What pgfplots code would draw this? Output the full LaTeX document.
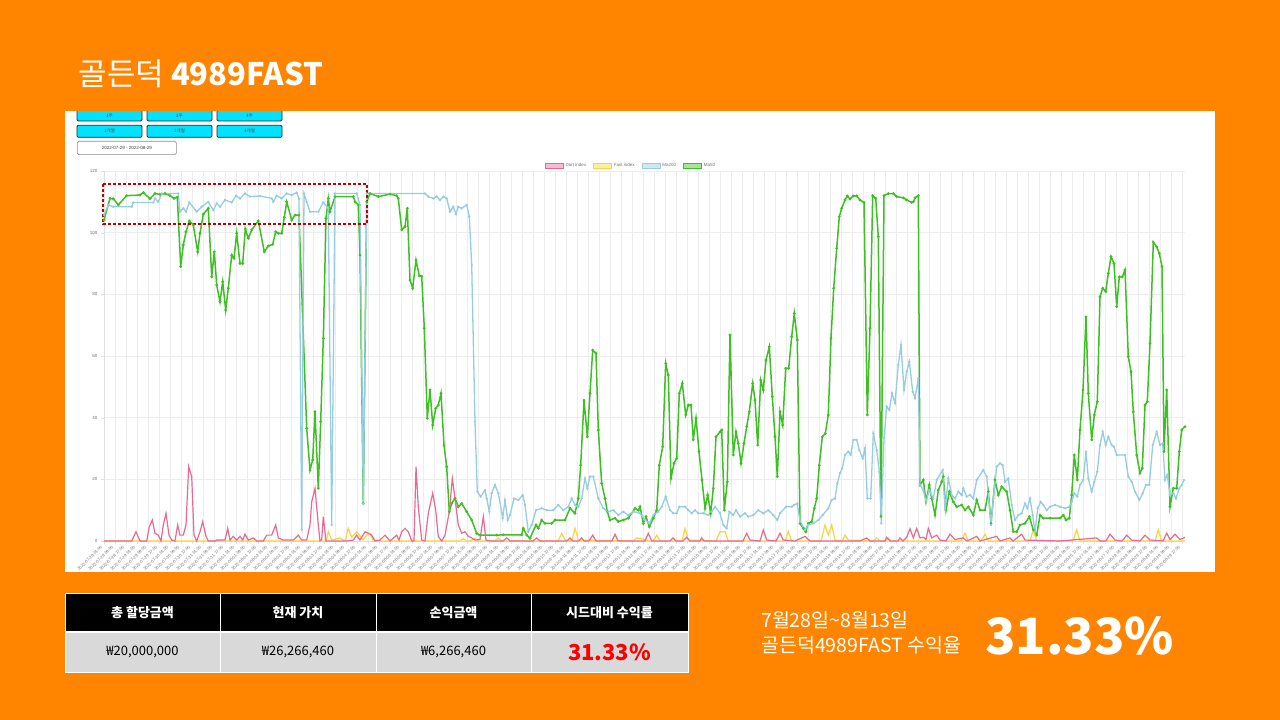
\documentclass[border=0pt]{standalone}
\usepackage{fontspec}
\setmainfont{Liberation Sans}
\newfontfamily\kr{Noto Sans CJK KR}
\usepackage{pgfplots}
\pgfplotsset{compat=1.18}

\definecolor{bg}{RGB}{255,132,0}
\definecolor{dartc}{RGB}{232,106,146}
\definecolor{fastc}{RGB}{250,212,60}
\definecolor{ma200c}{RGB}{150,205,225}
\definecolor{ma50c}{RGB}{62,192,36}
\definecolor{btn}{RGB}{0,226,255}
\definecolor{dashc}{RGB}{190,0,0}
\definecolor{cell}{RGB}{217,217,217}

% x tick labels, three per day
\def\dl#1{2022-#1 01:00,2022-#1 09:00,2022-#1 17:00}
\edef\xlabs{\dl{07-28},\dl{07-29},\dl{07-30},\dl{07-31},\dl{08-01},\dl{08-02},\dl{08-03},\dl{08-04},\dl{08-05},\dl{08-06},\dl{08-07},\dl{08-08},\dl{08-09},\dl{08-10},\dl{08-11},\dl{08-12},\dl{08-13},\dl{08-14},\dl{08-15},\dl{08-16},\dl{08-17},\dl{08-18},\dl{08-19},\dl{08-20},\dl{08-21},\dl{08-22},\dl{08-23},\dl{08-24},\dl{08-25},\dl{08-26},\dl{08-27},\dl{08-28},\dl{08-29}}

\begin{document}
\begin{tikzpicture}[x=1pt,y=1pt]
\path[use as bounding box] (0,0) rectangle (1280,720);
\fill[bg] (0,0) rectangle (1280,720);
\fill[white] (65,148) rectangle (1215,609);

% period buttons
\foreach \a/\t in {77/1주,147/2주,217/3주}{
  \draw[fill=btn,draw=black!85,line width=0.8pt,rounded corners=1.2pt] (\a,599) rectangle ++(65,14);
  \node[font=\kr\fontsize{4.5}{5}\selectfont,text=black!70] at (\a+32.5,603.8) {\t};
}
\foreach \a/\t in {77/1개월,147/2개월,217/3개월}{
  \draw[fill=btn,draw=black!85,line width=0.8pt,rounded corners=1.2pt] (\a,582.7) rectangle ++(65,12);
  \node[font=\kr\fontsize{4.5}{5}\selectfont,text=black!70] at (\a+32.5,588.7) {\t};
}
\draw[fill=white,draw=black!45,line width=0.6pt,rounded corners=1.5pt] (77.3,565.3) rectangle (176.3,578.7);
\node[font=\fontsize{4.5}{5}\selectfont,text=black!75] at (126.8,572) {2022-07-29 - 2022-08-29};
\fill[bg] (0,609) rectangle (1280,720);

\node[anchor=base west,text=white,font=\kr\fontsize{31}{31}\selectfont] at (75,634) {골든덕 \bfseries 4989FAST};

\coordinate (plotorigin) at (104,179);
\begin{axis}[
  at={(plotorigin)}, anchor=south west, scale only axis,
  width=1081pt, height=370pt,
  xmin=104, xmax=1185, ymin=0, ymax=120,
  enlargelimits=false, clip=false,
  axis lines*=left,
  xtick={104,115,...,1182},
  xticklabels/.expanded={\xlabs},
  ytick={0,20,...,120},
  grid=major,
  major grid style={black!7,line width=0.4pt},
  axis line style={black!12},
  tick style={black!12},
  major tick length=3pt, tick align=outside,
  x tick label style={rotate=45,anchor=east,font=\fontsize{4.2}{5}\selectfont,text=black!55},
  y tick label style={font=\fontsize{4.5}{5}\selectfont,text=black!55},
  /pgf/number format/assume math mode=true,
  legend style={at={(0.4875,1)},anchor=south,draw=none,fill=none,
    font=\fontsize{4.5}{5}\selectfont,text=black!55,legend columns=4,
    /tikz/every even column/.append style={column sep=5pt},inner sep=0.5pt},
  legend cell align=left,
]
\addlegendimage{legend image code/.code={\draw[draw=dartc,fill=dartc!45,line width=0.7pt] (0pt,-2.6pt) rectangle (18pt,2.6pt);}}
\addlegendentry{Dart index}
\addlegendimage{legend image code/.code={\draw[draw=fastc,fill=fastc!45,line width=0.7pt] (0pt,-2.6pt) rectangle (18pt,2.6pt);}}
\addlegendentry{Fast index}
\addlegendimage{legend image code/.code={\draw[draw=ma200c,fill=ma200c!45,line width=0.7pt] (0pt,-2.6pt) rectangle (18pt,2.6pt);}}
\addlegendentry{Ma200}
\addlegendimage{legend image code/.code={\draw[draw=ma50c,fill=ma50c!45,line width=0.7pt] (0pt,-2.6pt) rectangle (18pt,2.6pt);}}
\addlegendentry{Ma50}

% Ma50
\addplot[forget plot,ma50c,line width=1.5pt,mark=*,mark size=0.5pt,mark options={fill=ma50c!60!black,draw=none}] coordinates {
(104,104.1) (110,111.1) (113.3,111) (118.3,109) (126.7,112) (140,112.2) (143.3,113) (150,111) (155,112.7) (160,112.4) (165,112.7) (170,112) (174,111.1) (177.3,111.5) (180.7,89) (183.3,96) (186,100.3) (189.3,103.8) (193.3,102.5) (197.7,93.8) (200,99.8) (203.3,106) (208.3,107.9) (211.7,85.7) (214.3,93.8) (216.7,83) (220,77.6) (222.7,84.1) (225.7,74.9) (228.3,82) (231.7,92.7) (234,91.7) (236.7,99.8) (240,90) (242.7,90) (245.3,101.2) (248.3,98.2) (251.7,100.9) (258.3,103.8) (264.3,93.8) (268.3,95.7) (272.7,96.2) (275.7,100.3) (278.3,99.8) (281.7,99.8) (284.3,105) (286.7,110) (291.7,104.1) (295,105.7) (299,105.7) (306.7,36.5) (310,23) (312.7,26.3) (315,41.9) (318.3,17.1) (320.7,38.7) (323.3,65.7) (326,104.6) (328.3,111.1) (330,106.8) (335,111.7) (353.3,111.7) (355,110) (358.3,109) (360,92.7) (363.3,12.2) (366.7,110) (370,112.7) (378.3,111.7) (390,112.5) (396.7,112) (398.3,111.1) (401.7,100.9) (405,101.9) (407.3,107.9) (410,84.6) (412.7,82) (416,91.1) (419.3,86) (421.7,85.9) (424.3,69) (427.3,39.8) (430,49) (432.7,37.6) (435.7,43) (438.3,44.1) (441,47.9) (444,31.1) (446.7,24.1) (449.3,9.5) (451.7,12.2) (455,13.8) (458.3,11.1) (461.7,12.2) (466.7,9.5) (471.7,6.8) (476.7,2.5) (480,1.9) (496.7,1.9) (503.3,2) (521.7,2) (523.3,4.1) (526.7,1.9) (530,0.9) (536,5.2) (538.3,4.1) (541.7,6.8) (545,5.7) (551.7,5.7) (555,6.8) (565,6.8) (570,10.6) (575,9) (578.3,13.8) (580.7,24.6) (584,45.7) (587.3,33.8) (590,47.9) (592.7,61.9) (596,60.9) (598.3,36) (601.7,18.7) (605,13.8) (607.3,9.5) (610,6.8) (615,7.4) (618.3,6.3) (623.3,6.8) (628.3,7.4) (635,10.6) (638.3,10) (640,11.1) (643.3,5.7) (646,7.9) (649.3,4.6) (653.3,7.4) (656.7,10) (659.3,24.6) (662.7,30.6) (665.7,57.6) (668.3,53.8) (671,20.3) (674,25.2) (676.7,26.8) (679.3,47.9) (682.3,51.1) (685.7,40.9) (688.3,44.1) (691,44.1) (693.3,32.8) (696,39.8) (699,29) (702,19.8) (705,10.6) (707.7,14.9) (710.7,9) (713.3,17.1) (716,33.8) (720,35.4) (721.7,36) (724.3,10) (727.3,19.2) (730,66.8) (733.3,27.9) (736,35.4) (738.3,31.7) (741,25.2) (744,31.7) (746.7,37.1) (749.3,41.9) (752.7,51.1) (755,45.7) (757.7,31.1) (760.7,52.2) (763.3,49) (766,58.7) (769.3,63) (772.3,46.8) (775,33.8) (777.3,20.9) (780,41.9) (782.7,37.6) (785.7,56) (788.7,56) (791.7,66.3) (794.3,73.8) (797.3,65.2) (800,5.7) (803.3,4.1) (805.7,3) (808.3,5.7) (811.7,6.3) (814.3,10.6) (816.7,13.8) (819.3,24.6) (822.3,33.8) (825.3,34.9) (828.3,40.9) (831,65.7) (833.7,82) (836.7,94.9) (839.3,105.2) (841.7,107.9) (845,110.6) (847.3,111.9) (850,110.9) (853.3,111.9) (856.7,111.9) (860,110.6) (864,109.8) (867.3,40.9) (870,69) (872.7,112) (875.7,111.1) (878.3,98.7) (881,8) (884,112) (888.3,112.7) (893.3,112.7) (896.7,111.7) (903.3,111.3) (906.7,110.6) (911.7,109.8) (913.3,110) (915,111.3) (918.3,112) (920,18.2) (923.3,19.8) (926,12.7) (929.3,18.2) (931.7,13.8) (935,8.4) (938.3,16.5) (941.7,19.2) (943.3,20.9) (946,10) (949.3,16) (953.3,12.7) (956.7,11.1) (961.7,11.7) (965,10) (968.3,11.1) (973.3,8.4) (976.7,13.3) (980,10) (985,10) (988.3,16) (991,5.7) (995,19.8) (998.3,14.9) (1001.7,17.6) (1006.7,16) (1010,10) (1013.3,3) (1016.7,3) (1020,5.2) (1025,5.7) (1029.3,7.9) (1033.3,3.6) (1036.7,1.9) (1040,8.4) (1043.3,7.4) (1050,7.4) (1060,7.4) (1063.3,8.4) (1066,6.8) (1069.3,7.4) (1071.7,14.9) (1074.3,27.9) (1077.3,19.8) (1080,36) (1083,49) (1086,72.7) (1088.3,47.9) (1091.7,32.8) (1094.3,40.9) (1097.3,45.2) (1100,79.2) (1102.7,82) (1105.7,80.9) (1108.3,86.8) (1111,92.2) (1114,90) (1116.7,76) (1119.3,85.7) (1122.3,85.7) (1125,87.9) (1128.3,59.8) (1131,54.9) (1133.3,41.9) (1136.7,27.9) (1140,22) (1142.3,23.6) (1145,44.1) (1147.3,45.2) (1150,64.1) (1153.3,96.9) (1156.7,95.4) (1159.3,93.3) (1162,89) (1164,29) (1166.7,49) (1170,11.1) (1173.3,17.1) (1176.7,17.1) (1179.3,29) (1181.7,36) (1185,37.1)
};

% Ma200
\addplot[forget plot,ma200c,line width=1.3pt,mark=*,mark size=0.4pt,mark options={fill=ma200c!75!black,draw=none}] coordinates {
(104,105.7) (108.3,109) (113.3,108.4) (131.7,108.4) (133.3,109.8) (153.3,109.8) (155,111.1) (158.3,110) (161.7,112.7) (178.3,112.7) (180,106.8) (183.3,107.9) (186,106.8) (189.3,109.8) (196.7,106.8) (201.7,108.4) (208.3,110) (213.3,107.3) (216.7,109.5) (220,108.4) (225,110.6) (231.7,109.8) (236,112) (240,111.1) (245,112.7) (250,111.7) (260,111.9) (271.7,111.1) (273.3,110) (276.7,112) (281.7,111.1) (286.7,112.7) (291.7,112.2) (296.7,113) (299,111) (301.7,3.6) (304,112.7) (306.7,110) (310,106.8) (318.3,106.8) (323.3,109.8) (328.3,107.9) (331.7,5.2) (335,112.7) (356.7,112.7) (360,109) (363.3,12) (366.7,112.7) (425,112.7) (428.3,111.7) (433.3,111.1) (436.7,111.7) (440,110.6) (443.3,111.7) (446.7,111.1) (450,106.8) (453.3,108.4) (456,106) (458.3,108.4) (461.7,107.9) (466.7,109) (469.3,105.2) (471.7,89.5) (475,38.7) (477.3,16) (480.7,14.4) (485,16.5) (486.7,13.8) (489.3,9.5) (491.7,15.5) (495,18.2) (498.3,15.5) (502.7,7.4) (505,13.3) (507.7,6.8) (510,8.4) (514,13.8) (518.3,13.3) (522.7,14.9) (525,11.7) (528.3,3) (531.7,5.2) (536,10) (541.7,10.6) (546.7,10) (553.3,10) (558.3,11.7) (563.3,10) (568.3,11.1) (571.7,13.8) (575,11.7) (578.3,11) (581.7,13.8) (585,20.3) (587.3,17.1) (590,20.9) (593.3,20.9) (598.3,13.8) (603.3,10.6) (608.3,9.5) (613.3,10) (618.3,8.4) (623.3,9.5) (628.3,8.4) (633.3,9.5) (640,9) (645,6.8) (649.3,5.7) (653.3,8.4) (658.3,9.5) (661.7,11.1) (665.7,14.4) (670,10) (673.3,9) (676.7,9) (679.3,11.1) (685,11.1) (688.3,10) (691.7,9) (695,10) (698.3,9) (703.3,9) (708.3,8.4) (711.7,9.5) (715,11.1) (720,9) (723.3,5.2) (726.7,4.1) (729.3,9.5) (733.3,8.4) (736,10) (740,7.9) (745,9) (748.3,7.9) (753.3,8.4) (758.3,10) (763.3,9) (768.3,10) (773.3,8.4) (777.3,6.8) (780,9) (786,11.1) (791.7,11.1) (794.3,11.7) (797.3,12.2) (800,6.3) (805,3.6) (808.3,5.2) (813.3,5.7) (818.3,6.8) (822.7,8.4) (828.3,10.6) (831.7,13.3) (835,13.8) (837.3,18.7) (840,22) (842.3,23.6) (845,27.9) (848.3,29) (850.7,27.9) (853.3,32.8) (856.7,32.8) (859.3,29.5) (862.7,26.8) (865,30.1) (867.3,13.8) (870.7,13.8) (873.3,34.9) (876.7,29.5) (879.3,22.5) (881.3,5.7) (884,33.3) (886.7,43.6) (889.3,42.5) (892,47.9) (895,44.7) (898.3,57.1) (901,63.6) (904,49) (906.7,54.9) (909.3,58.2) (912.7,48.4) (915,46.3) (918.3,52.8) (920,18.2) (923.3,16.5) (926,12.7) (929.3,16.5) (933.3,13.8) (936.7,19.8) (942.7,23) (945,10) (948.3,20.3) (951.7,14.9) (955,13.8) (958.3,16) (961.7,14.9) (963.3,17.1) (966.7,14.4) (970,14.9) (973.3,13.8) (976.7,19.8) (983.3,23) (986.7,20.9) (991,5.2) (993.3,13.8) (996.7,24.1) (1000,25.2) (1002.7,24.6) (1005,19.2) (1008.3,20.3) (1011.7,11.7) (1015,6.8) (1018.3,8.4) (1021.7,9) (1025,12.2) (1027.3,10.6) (1030,13.8) (1032.7,8.4) (1035,3) (1037.7,10.6) (1040.7,12.7) (1043.3,11.7) (1046.7,10) (1050,11.1) (1055,11.7) (1060,11.1) (1065,10.6) (1069.3,11.1) (1071.7,12.7) (1074.3,15.5) (1077.3,14.4) (1080,18.2) (1083.3,19.8) (1086,29) (1088.3,20.3) (1091.7,16) (1094.3,19.2) (1097.3,22.5) (1100,31.1) (1102.7,35.4) (1105.7,31.1) (1108.3,33.8) (1111.7,31.1) (1114,30.6) (1116.7,27.9) (1125,27.9) (1128.3,20.9) (1131.7,19.2) (1135,16) (1139.3,13.3) (1142.7,15.5) (1146,18.2) (1149.3,18.2) (1152.7,31.1) (1156.7,35.4) (1160,31.1) (1162.7,31.7) (1165,19.8) (1167.3,21.4) (1170,14.9) (1173.3,15.5) (1176,13.8) (1179.3,17.1) (1181.7,18.2) (1184,19.8)
};

% Fast index
\addplot[forget plot,fastc,line width=1.2pt] coordinates {
(104,0) (326,0) (328.3,3) (331.7,0.3) (340,1) (345,0) (348.3,4.1) (351.7,1.2) (356.7,3) (363.3,0.3) (366.7,1.9) (370,2.5) (373.3,0) (460,0) (463.3,0.8) (466,0) (470,0) (475,0.8) (478,0) (495,0) (498.3,1) (501,0) (558,0) (561.7,2.5) (565,0.3) (572,0) (575,4.1) (578.3,0.3) (633,0) (636.7,1) (645,0.5) (648,0) (653,0) (656.7,1.9) (660,0) (682,0) (685,4.1) (688.3,0.3) (716,0) (720,3) (725,3) (728.3,0) (785,0) (788.3,3) (791.7,0) (821,0) (825,5.2) (828.3,1.9) (831.7,5.2) (835,0.3) (842,0) (845,1.9) (848.3,0.3) (873,0) (876.7,1) (880,0) (886,0) (888.3,0.8) (891,0) (961,0) (965,2.5) (968.3,0) (981,0) (985,2.2) (988.3,0) (1030,0) (1033.3,3.6) (1036.7,0) (1073,0) (1076.7,3.6) (1080,0) (1155,0) (1158.3,3.6) (1161.7,0) (1185,0)
};

% Dart index
\addplot[forget plot,dartc,line width=1.2pt] coordinates {
(104,0) (131.7,0) (136,3) (140,0) (146.7,0) (149.3,4.6) (152.3,6.8) (155,2.5) (158.3,1.9) (161,0) (163.3,5.2) (166,9) (169,1.9) (171.7,0.3) (175,0) (177.7,5.2) (180,1.9) (183.3,1.9) (186,5.2) (188.7,24.1) (191.7,20.9) (194,1.9) (196.7,0) (200,3) (202.7,6.3) (206,1.5) (208.3,0) (215,0) (216.7,0.3) (225,0.3) (227.7,4.1) (230,0.3) (233.3,1.5) (236.7,0.3) (240,1.5) (242.7,0.3) (245,2.2) (248.3,0.3) (253.3,1) (256.7,0) (263.3,0) (266.7,1.9) (271.7,1.9) (275.7,5.2) (278.3,1) (283.3,0.3) (293.3,0.3) (298.3,1.9) (301.7,0.3) (306.7,0.3) (310,5.2) (311.7,12.7) (315,17.1) (318.3,5.2) (320,0) (321.7,0.5) (323.3,7.9) (326,0) (346.7,0) (353.3,0.3) (356.7,1.9) (360,0.3) (365,3) (368.3,2.5) (371.7,1.9) (375,0) (380,0.3) (385,1.9) (390,0) (396.7,1.9) (399,0.3) (401.7,3) (405,4.1) (408.3,3) (411.7,0) (414,0) (416,24.1) (418.3,11.1) (421.7,0.3) (425,0) (428.3,9) (432.7,15.5) (435.7,10) (438.3,1.5) (441.7,0) (445,1.9) (449.3,9.5) (452.3,20.3) (455,13.8) (458.3,5.2) (461.7,2.5) (465,3) (468.3,1.5) (471.7,1) (475,0.3) (480,0.5) (483.3,7.9) (486,0.3) (490,0) (503,0) (506.7,1) (510,0) (533,0) (536.7,1) (540,0) (567,0) (570,1) (573,0) (579,0) (581.7,1) (584,0) (589,0) (592.7,1.9) (596,0) (612,0) (615,2.2) (618,0) (645,0) (648.3,2.5) (651.7,0) (670,0) (673,1) (676,0) (683,0) (686.7,1.2) (690,0) (700,0) (701.7,1) (704,0) (743,0) (746.7,2.5) (750,0.3) (760,0) (763.3,3.6) (766.7,0.3) (776,0) (780,2.5) (783.3,0.3) (795,0) (805,1.5) (810,0) (860,0) (866.7,1) (870,0) (885,0) (886.7,1.2) (890,0) (898,0) (900,1) (903,0) (906.7,1.2) (910,4) (913.3,1) (916.7,4.1) (920,1) (923.3,1.2) (926,0.5) (928.3,4.1) (931.7,1) (936.7,1.9) (940,0.3) (946,0) (950,2.2) (955,0.5) (963,1) (967,0) (976.7,1.5) (980,0) (996.7,1.5) (1000,0) (1010,1) (1013,0) (1021.7,2.2) (1025,0.3) (1060,0) (1096.7,1) (1100,0) (1106,0) (1110,2.2) (1115,0.3) (1122,0) (1126.7,1.9) (1131.7,0.3) (1140,0) (1145,1.9) (1150,0.3) (1163,0) (1166.7,2.5) (1170,0.5) (1175,2.2) (1180,0.5) (1185,1.2)
};

\draw[dashc,line width=1.6pt,dash pattern=on 3pt off 2pt] (axis cs:103,115.8) rectangle (axis cs:367,102.8);
\end{axis}

% summary table
\fill[black] (65,89) rectangle (688,127);
\fill[cell] (65,48) rectangle (688,87);
\fill[white] (65,87) rectangle (688,89);
\foreach \x in {220,376,531} \draw[white,line width=0.8pt] (\x,48) -- (\x,127);
\draw[white,line width=0.8pt] (65,48) rectangle (688,127);
\foreach \x/\t in {142.5/총 할당금액,298/현재 가치,453.5/손익금액,609.5/시드대비 수익률}
  \node[text=white,font=\kr\bfseries\fontsize{13}{13}\selectfont] at (\x,107) {\t};
\foreach \x/\t in {142.5/₩20{,}000{,}000,298/₩26{,}266{,}460,453.5/₩6{,}266{,}460}
  \node[text=black,font=\kr\fontsize{13}{13}\selectfont] at (\x,67.5) {\t};
\node[text=red,font=\kr\bfseries\fontsize{22}{22}\selectfont] at (609.5,67.5) {31.33\%};

% result text
\node[anchor=base west,inner sep=0,text=white,font=\kr\fontsize{19.5}{20}\selectfont] at (761,92) {7월28일\textasciitilde 8월13일};
\node[anchor=base west,inner sep=0,text=white,font=\kr\fontsize{19.5}{20}\selectfont] at (761,67) {골든덕4989FAST 수익율};
\node[anchor=base west,inner sep=0,text=white,font=\kr\bfseries\fontsize{50}{50}\selectfont] at (985,65) {31.33\%};
\end{tikzpicture}
\end{document}
